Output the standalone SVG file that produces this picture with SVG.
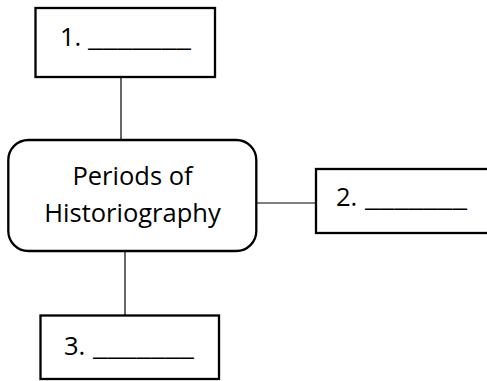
<svg xmlns="http://www.w3.org/2000/svg" width="487" height="381" viewBox="0 0 487 381">
<style>
.box{fill:#fff;stroke:#000;stroke-width:2.3}
.conn{stroke:#000;stroke-width:1.2;fill:none}
.t{font-family:"Open Sans","Noto Sans","Liberation Sans",sans-serif;font-size:25.5px;fill:#000}
.c{text-anchor:middle}
</style>
<rect width="487" height="381" fill="#fff"/>
<g id="connectors">
<line class="conn" x1="121" y1="78" x2="121" y2="140"/>
<line class="conn" x1="257" y1="203" x2="316" y2="203"/>
<line class="conn" x1="125" y1="251" x2="125" y2="315"/>
</g>
<g id="node-1">
<rect class="box" x="35.5" y="8" width="179.5" height="69"/>
<text class="t" x="60" y="46">1. <tspan x="88" textLength="103" lengthAdjust="spacingAndGlyphs">_______</tspan></text>
</g>
<g id="node-center">
<rect class="box" x="8.3" y="140" width="248" height="111" rx="20" ry="20"/>
<text class="t c" x="132.5" y="185">Periods of</text>
<text class="t c" x="132.5" y="222">Historiography</text>
</g>
<g id="node-2">
<rect class="box" x="316" y="169" width="200" height="64"/>
<text class="t" x="336" y="206">2. <tspan x="365" textLength="102" lengthAdjust="spacingAndGlyphs">_______</tspan></text>
</g>
<g id="node-3">
<rect class="box" x="40.5" y="315.5" width="178.5" height="63.5"/>
<text class="t" x="64" y="355">3. <tspan x="93" textLength="101" lengthAdjust="spacingAndGlyphs">_______</tspan></text>
</g>
</svg>
